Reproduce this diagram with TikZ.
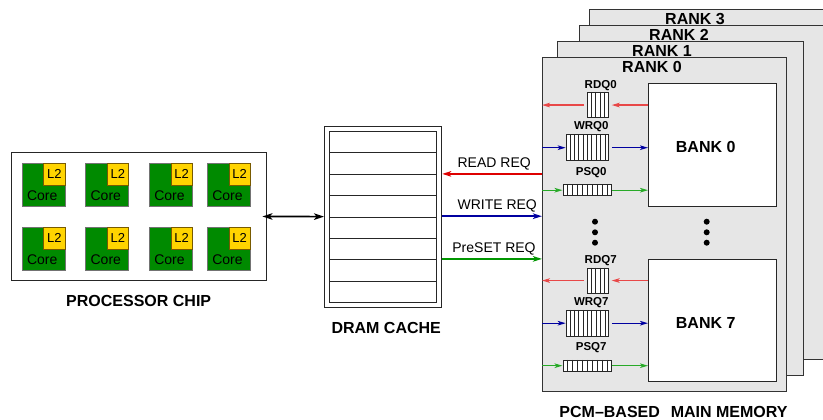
\documentclass[tikz,border=0pt]{standalone}
\usepackage{fontspec}
\setmainfont{Liberation Sans}
\usetikzlibrary{calc,arrows.meta}
\definecolor{rankfill}{RGB}{230,230,230}
\definecolor{coregreen}{RGB}{0,138,0}
\definecolor{l2yellow}{RGB}{255,212,0}
\definecolor{l2edge}{RGB}{120,90,0}
\definecolor{redout}{RGB}{222,0,0}
\definecolor{redin}{RGB}{232,72,72}
\definecolor{bluec}{RGB}{0,0,160}
\definecolor{greenout}{RGB}{0,150,0}
\definecolor{greenin}{RGB}{40,170,40}
\begin{document}
\begin{tikzpicture}[x=1pt,y=-1pt,
  box/.style={rectangle, inner sep=0pt, anchor=north west},
  rankbox/.style={box, draw=black!80, fill=rankfill, line width=0.9pt},
  bankbox/.style={box, draw=black!85, fill=white, line width=1pt},
  qbox/.style={box, draw=black!85, fill=white, line width=0.8pt},
  corebox/.style={box, draw=black!55, fill=coregreen, line width=0.7pt, minimum width=43pt, minimum height=43pt},
  l2box/.style={rectangle, inner sep=0pt, anchor=north east, draw=l2edge, fill=l2yellow, line width=0.6pt, minimum width=21.5pt, minimum height=22pt, font=\fontsize{13}{15}\selectfont},
  plainbox/.style={box, draw=black!85, fill=white, line width=0.9pt},
  big/.style={inner sep=0pt, font=\fontsize{16}{18}\selectfont\bfseries},
  qlbl/.style={inner sep=0pt, font=\fontsize{11.5}{13}\selectfont\bfseries},
  reqlbl/.style={inner sep=0pt, font=\fontsize{14}{16}\selectfont},
  corelbl/.style={inner sep=0pt, font=\fontsize{14}{16}\selectfont},
  tip/.tip={Stealth[length=8pt,width=4.6pt,inset=2pt]},
  bigtip/.tip={Stealth[length=9pt,width=5.5pt,inset=2.2pt]},
  dbltip/.tip={Stealth[length=10pt,width=6.5pt,inset=2.5pt]},
  redinarr/.style={draw=redin, line width=1.2pt, -tip},
  blueinarr/.style={draw=bluec, line width=1.3pt, -tip},
  greeninarr/.style={draw=greenin, line width=1.2pt, -tip},
  outarr/.style={line width=2pt, -bigtip},
  dblarr/.style={draw=black, line width=1.7pt, dbltip-dbltip},
  dotc/.style={circle, fill=black, inner sep=0pt, minimum size=6pt}
]
\useasboundingbox (0,0) rectangle (823,420);

% ---------------- Processor chip ----------------
\node[plainbox, minimum width=255pt, minimum height=128pt] (chip) at (11,152) {};
\foreach \cx [count=\i] in {21.7,85.3,149,207} {
  \foreach \cy [count=\j] in {162.7,226.7} {
    \node[corebox] (core\i\j) at (\cx,\cy) {};
    \node[l2box] (ltwo\i\j) at (core\i\j.north east) {L2};
    \node[corelbl] (corelbl\i\j) at ({\cx+20.5},{\cy+33}) {Core};
  }
}
\node[big] (chiplbl) at (138.7,301.3) {PROCESSOR CHIP};

% ---------------- DRAM cache ----------------
\node[plainbox, minimum width=117.3pt, minimum height=181pt] (dram) at (324,125.7) {};
\node[plainbox, minimum width=106.7pt, minimum height=170.4pt] (dramin) at (329.3,131.3) {};
\foreach \i in {1,...,7}
  \draw[black!85, line width=0.9pt] ($(dramin.north west)!\i/8!(dramin.south west)$) -- ($(dramin.north east)!\i/8!(dramin.south east)$);
\node[big] (dramlbl) at (386.2,327.5) {DRAM CACHE};

\draw[dblarr, shorten <=-4.5pt] (chip.east) -- (dram.west);

% ---------------- Ranks ----------------
\node[rankbox, minimum width=245pt, minimum height=334pt] (r3) at (589.3,9.3) {};
\node[rankbox, minimum width=243.4pt, minimum height=334.3pt] (r2) at (579.3,25) {};
\node[rankbox, minimum width=245.4pt, minimum height=334pt] (r1) at (557.3,41) {};
\node[rankbox, minimum width=244pt, minimum height=334.3pt] (r0) at (542,56.7) {};
\node[big] (r3lbl) at (695,19) {RANK 3};
\node[big] (r2lbl) at (679,34.7) {RANK 2};
\node[big] (r1lbl) at (662,50.7) {RANK 1};
\node[big] (r0lbl) at (652,67.3) {RANK 0};

\foreach \k/\dy in {0/0,7/175.5} {
  \node[bankbox, minimum width=127.7pt, minimum height=122.2pt] (bank\k) at (648,{83.3+\dy}) {};
  \node[big] (banklbl\k) at (705.7,{147+\dy}) {BANK \k};
  % queues
  \node[qbox, minimum width=21.7pt, minimum height=25.3pt] (rdq\k) at (586.7,{92+\dy}) {};
  \node[qbox, minimum width=42.7pt, minimum height=26pt] (wrq\k) at (565.7,{134.3+\dy}) {};
  \node[qbox, minimum width=48.6pt, minimum height=11pt] (psq\k) at (562.5,{184.3+\dy}) {};
  \foreach \c in {1,...,4}
    \draw[black!85, line width=0.7pt] ($(rdq\k.north west)!\c/5!(rdq\k.north east)$) -- ($(rdq\k.south west)!\c/5!(rdq\k.south east)$);
  \foreach \c in {1,...,9}
    \draw[black!85, line width=0.7pt] ($(wrq\k.north west)!\c/10!(wrq\k.north east)$) -- ($(wrq\k.south west)!\c/10!(wrq\k.south east)$);
  \foreach \c in {1,...,9}
    \draw[black!85, line width=0.7pt] ($(psq\k.north west)!\c/10!(psq\k.north east)$) -- ($(psq\k.south west)!\c/10!(psq\k.south east)$);
  \node[qlbl] (rdqlbl\k) at (600.7,{85.3+\dy}) {RDQ\k};
  \node[qlbl] (wrqlbl\k) at (591.3,{126.7+\dy}) {WRQ\k};
  \node[qlbl] (psqlbl\k) at (591.2,{172.5+\dy}) {PSQ\k};
  % arrows
  \draw[redinarr, shorten >=2.5pt] (rdq\k.east -| bank\k.west) -- (rdq\k.east);
  \draw[redinarr, shorten <=2.5pt] (rdq\k.west) -- (rdq\k.west -| r0.west);
  \draw[blueinarr] (wrq\k.west -| r0.west) -- (wrq\k.west);
  \draw[blueinarr, shorten <=2.7pt] (wrq\k.east) -- (wrq\k.east -| bank\k.west);
  \draw[greeninarr] (psq\k.west -| r0.west) -- (psq\k.west);
  \draw[greeninarr] (psq\k.east) -- (psq\k.east -| bank\k.west);
}

% dots
\foreach \dx/\nm in {595/L,706.7/R}
  \foreach \dyy [count=\n] in {221.7,232.3,242.7}
    \node[dotc] (dot\nm\n) at (\dx,\dyy) {};

\node[big] (memlbl) at (673.5,412) {PCM–BASED\hspace{0.4em} MAIN MEMORY};

% ---------------- Requests ----------------
\coordinate (yread) at (0,173.9);
\coordinate (ywrite) at (0,216.2);
\coordinate (ypreset) at (0,258.9);
\draw[outarr, draw=redout] (r0.west |- yread) -- (dram.east |- yread);
\draw[outarr, draw=bluec] (dram.east |- ywrite) -- (r0.west |- ywrite);
\draw[outarr, draw=greenout] (dram.east |- ypreset) -- (r0.west |- ypreset);
\node[reqlbl] (readlbl) at (494.2,163.7) {READ REQ};
\node[reqlbl] (writelbl) at (497.2,205.5) {WRITE REQ};
\node[reqlbl] (presetlbl) at (494,248.7) {PreSET REQ};
\end{tikzpicture}
\end{document}
